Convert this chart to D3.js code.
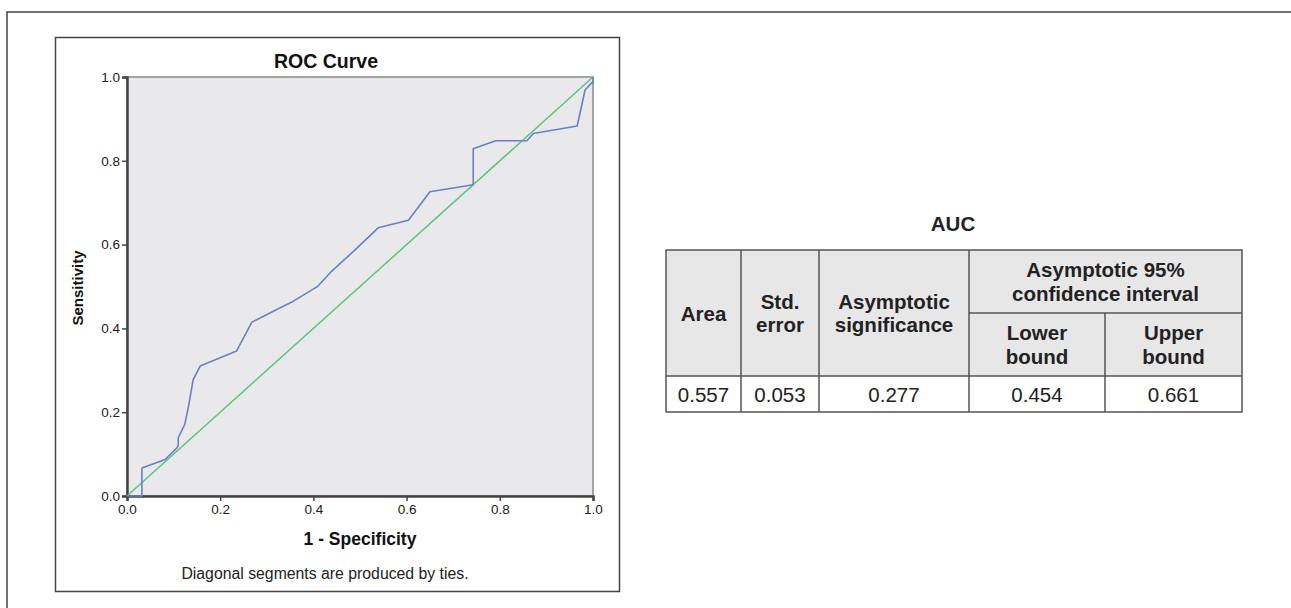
<!DOCTYPE html>
<html>
<head>
<meta charset="utf-8">
<script src="https://d3js.org/d3.v7.min.js"></script>
<style>
  body { margin: 0; background: #fff; }
  svg { display: block; font-family: "Liberation Sans", Arial, sans-serif; }
</style>
</head>
<body>
<svg id="fig" width="1291" height="608"></svg>
<script>
// ROC curve points: 1 - specificity, sensitivity
var fpr = [0, 0.032, 0.032, 0.082, 0.107, 0.110, 0.110, 0.124, 0.132, 0.142, 0.157, 0.235, 0.268, 0.314, 0.357, 0.410, 0.436, 0.486, 0.539, 0.604, 0.650, 0.743, 0.743, 0.791, 0.858, 0.872, 0.966, 0.983, 0.997, 1.0, 1.0]
var tpr = [0, 0, 0.067, 0.087, 0.115, 0.120, 0.139, 0.171, 0.214, 0.278, 0.310, 0.346, 0.415, 0.441, 0.465, 0.501, 0.533, 0.584, 0.640, 0.658, 0.726, 0.743, 0.829, 0.848, 0.848, 0.865, 0.883, 0.969, 0.986, 0.986, 1.0]
var refLine = [0, 1]
var ticks = [0, 0.2, 0.4, 0.6, 0.8, 1.0]

// AUC table
var aucHeaders = [["Area"], ["Std.", "error"], ["Asymptotic", "significance"]]
var ciHeader = ["Asymptotic 95%", "confidence interval"]
var ciSubHeaders = [["Lower", "bound"], ["Upper", "bound"]]
var aucValues = ["0.557", "0.053", "0.277", "0.454", "0.661"]

var svg = d3.select("#fig")

// outer frame (top and left only visible)
svg.append("path")
  .attr("d", "M7,608 V12 H1291")
  .attr("fill", "none").attr("stroke", "#444").attr("stroke-width", 1.5)

// chart box
svg.append("rect")
  .attr("x", 55.5).attr("y", 37.5).attr("width", 564).attr("height", 554)
  .attr("fill", "#fff").attr("stroke", "#444").attr("stroke-width", 1.5)

var margin = {left: 127, right: 593, top: 77, bottom: 496}

var x = d3.scaleLinear().domain([0, 1]).range([margin.left, margin.right])
var y = d3.scaleLinear().domain([0, 1]).range([margin.bottom, margin.top])

svg.append("rect")
  .attr("x", x(0)).attr("y", y(1))
  .attr("width", x(1) - x(0)).attr("height", y(0) - y(1))
  .attr("fill", "#e9e9eb").attr("stroke", "#8a8a8a").attr("stroke-width", 1.5)

svg.append("g")
  .attr("transform", `translate(0,${y(0)})`)
  .call(d3.axisBottom(x).tickValues(ticks).tickFormat(d3.format(".1f")).tickSize(5).tickPadding(3))
  .call(g => g.select(".domain").attr("stroke", "#444").attr("stroke-width", 2.5))
  .call(g => g.selectAll(".tick line").attr("stroke", "#444").attr("stroke-width", 1.5))
  .call(g => g.selectAll(".tick text").attr("font-size", 13.5).attr("fill", "#222").attr("font-family", "Liberation Sans"))

svg.append("g")
  .attr("transform", `translate(${x(0)},0)`)
  .call(d3.axisLeft(y).tickValues(ticks).tickFormat(d3.format(".1f")).tickSize(5).tickPadding(2))
  .call(g => g.select(".domain").attr("stroke", "#444").attr("stroke-width", 2.5))
  .call(g => g.selectAll(".tick line").attr("stroke", "#444").attr("stroke-width", 1.5))
  .call(g => g.selectAll(".tick text").attr("font-size", 13.5).attr("fill", "#222").attr("font-family", "Liberation Sans"))

var line = d3.line().x(d => x(d[0])).y(d => y(d[1]))

svg.append("path")
  .datum(refLine.map(v => [v, v]))
  .attr("d", line)
  .attr("fill", "none").attr("stroke", "#5cc47c").attr("stroke-width", 1.5)

svg.append("path")
  .datum(fpr.map((v, i) => [v, tpr[i]]))
  .attr("d", line)
  .attr("fill", "none").attr("stroke", "#6a7fc8").attr("stroke-width", 1.6)
  .attr("stroke-linejoin", "round")

svg.append("text")
  .attr("x", 326).attr("y", 68)
  .attr("text-anchor", "middle").attr("font-weight", "bold").attr("font-size", 19.5)
  .attr("fill", "#111").text("ROC Curve")

svg.append("text")
  .attr("transform", "translate(83,288) rotate(-90)")
  .attr("text-anchor", "middle").attr("font-weight", "bold").attr("font-size", 15)
  .attr("fill", "#111").text("Sensitivity")

svg.append("text")
  .attr("x", 360).attr("y", 545)
  .attr("text-anchor", "middle").attr("font-weight", "bold").attr("font-size", 17.5)
  .attr("fill", "#111").text("1 - Specificity")

svg.append("text")
  .attr("x", 325).attr("y", 579)
  .attr("text-anchor", "middle").attr("font-size", 15.8)
  .attr("fill", "#222").text("Diagonal segments are produced by ties.")

// ---- table ----
var cols = [666, 741, 819, 969, 1105, 1242]
var rows = [250, 313, 376, 412]
var fs = 20.5

svg.append("text")
  .attr("x", 953).attr("y", 231)
  .attr("text-anchor", "middle").attr("font-weight", "bold").attr("font-size", fs)
  .attr("fill", "#222").text("AUC")

var tbl = svg.append("g").attr("fill", "#222")

tbl.append("rect")
  .attr("x", cols[0]).attr("y", rows[0])
  .attr("width", cols[5] - cols[0]).attr("height", rows[2] - rows[0])
  .attr("fill", "#e7e7e7")

function cellText(cx, cy, lines, bold) {
  var t = tbl.append("text")
    .attr("text-anchor", "middle").attr("font-size", fs)
    .attr("font-weight", bold ? "bold" : "normal")
  var lh = 23.5
  lines.forEach((s, i) => {
    t.append("tspan").attr("x", cx)
      .attr("y", cy + (i - (lines.length - 1) / 2) * lh + 7.5)
      .text(s)
  })
}

aucHeaders.forEach((h, i) => {
  cellText((cols[i] + cols[i + 1]) / 2, (rows[0] + rows[2]) / 2, h, true)
})
cellText((cols[3] + cols[5]) / 2, (rows[0] + rows[1]) / 2, ciHeader, true)
ciSubHeaders.forEach((h, i) => {
  cellText((cols[3 + i] + cols[4 + i]) / 2, (rows[1] + rows[2]) / 2, h, true)
})
aucValues.forEach((v, i) => {
  cellText((cols[i] + cols[i + 1]) / 2, (rows[2] + rows[3]) / 2, [v], false)
})

// grid lines
var gridStroke = "#555"
tbl.append("rect")
  .attr("x", cols[0]).attr("y", rows[0])
  .attr("width", cols[5] - cols[0]).attr("height", rows[3] - rows[0])
  .attr("fill", "none").attr("stroke", gridStroke).attr("stroke-width", 1.5)
tbl.selectAll("line.v")
  .data(cols.slice(1, 5))
  .join("line")
  .attr("x1", d => d).attr("x2", d => d)
  .attr("y1", (d, i) => i === 3 ? rows[1] : rows[0]).attr("y2", rows[3])
  .attr("stroke", gridStroke).attr("stroke-width", 1.5)
tbl.append("line")
  .attr("x1", cols[3]).attr("x2", cols[5]).attr("y1", rows[1]).attr("y2", rows[1])
  .attr("stroke", gridStroke).attr("stroke-width", 1.5)
tbl.append("line")
  .attr("x1", cols[0]).attr("x2", cols[5]).attr("y1", rows[2]).attr("y2", rows[2])
  .attr("stroke", gridStroke).attr("stroke-width", 1.5)
</script>
</body>
</html>
